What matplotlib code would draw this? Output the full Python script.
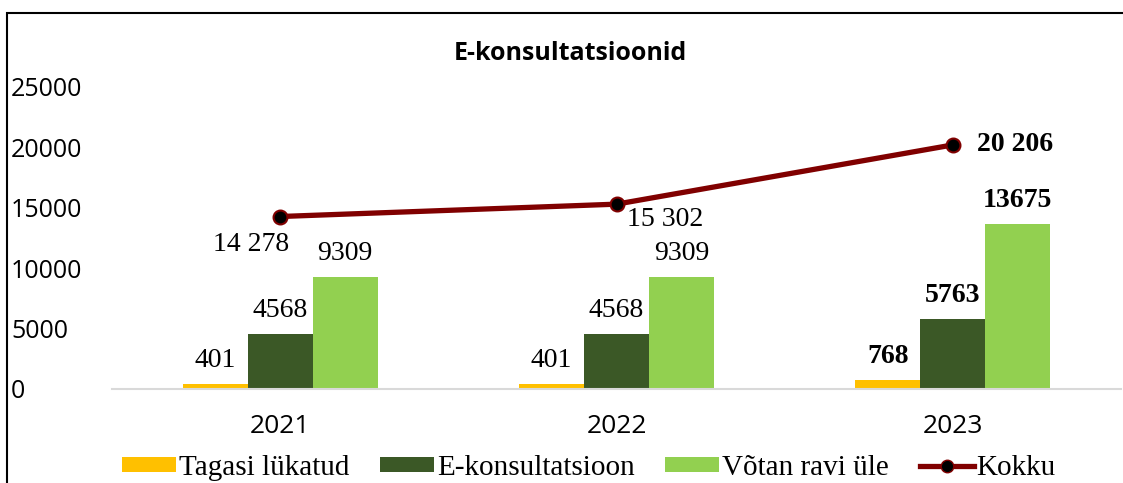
import matplotlib
matplotlib.use("Agg")
import matplotlib.pyplot as plt
import numpy as np
from matplotlib.lines import Line2D
from matplotlib.patches import Patch, Rectangle
from matplotlib.transforms import blended_transform_factory

years = ["2021", "2022", "2023"]
tagasi = [401, 401, 768]
ekons = [4568, 4568, 5763]
votan = [9309, 9309, 13675]
kokku = [14278, 15302, 20206]
kokku_labels = ["14 278", "15 302", "20 206"]
series_names = ["Tagasi lükatud", "E-konsultatsioon", "Võtan ravi üle", "Kokku"]
title = "E-konsultatsioonid"

c_yellow = "#FFC000"
c_dark = "#3B5826"
c_light = "#92D050"
c_line = "#800000"

serif = "Liberation Serif"
sans = "Open Sans"

fig = plt.figure(figsize=(11.23, 4.83), dpi=100)
ax = fig.add_axes([112 / 1123, (483 - 389) / 483, (1121 - 112) / 1123, (389 - 87) / 483])

# border of chart area (top and left visible)
fig.patches.append(Rectangle((7 / 1123, -0.1), 1.2, (483 - 13) / 483 + 0.1,
                             transform=fig.transFigure, fill=False,
                             edgecolor="black", linewidth=1.5))

x = np.arange(len(years))
w = 0.193
bars = [
    (tagasi, c_yellow, -w),
    (ekons, c_dark, 0),
    (votan, c_light, w),
]
for vals, col, off in bars:
    ax.bar(x + off, vals, width=w, color=col, edgecolor="none", zorder=2)
    for i, v in enumerate(vals):
        ax.annotate(str(v), (x[i] + off, v), xytext=(0, 11), textcoords="offset pixels",
                    ha="center", va="bottom", fontsize=20, family=serif,
                    fontweight="bold" if i == 2 else "normal", zorder=5)

ax.plot(x, kokku, color=c_line, linewidth=3.8, marker="o", markersize=10,
        markerfacecolor="black", markeredgecolor=c_line, markeredgewidth=1.5, zorder=4)

label_offsets = [(-29, -28), (49, -15), (62, 0)]
for i, (v, lab) in enumerate(zip(kokku, kokku_labels)):
    dx, dy = label_offsets[i]
    ax.annotate(lab, (x[i], v), xytext=(dx, dy), textcoords="offset pixels",
                ha="center", va="center", fontsize=20, family=serif,
                fontweight="bold" if i == 2 else "normal", zorder=5)

ax.set_xlim(-0.5, 2.5)
ax.set_ylim(0, 25000)
ax.set_yticks(np.arange(0, 25001, 5000))
ax.set_xticks(x)
ax.set_xticklabels(years)
for s in ["top", "right", "left"]:
    ax.spines[s].set_visible(False)
ax.spines["bottom"].set_color("#D9D9D9")
ax.spines["bottom"].set_linewidth(1.5)
ax.tick_params(axis="y", length=0, pad=0, labelsize=18)
ax.tick_params(axis="x", length=0, pad=18, labelsize=19)
for t in ax.get_yticklabels() + ax.get_xticklabels():
    t.set_family(sans)
for t in ax.get_yticklabels():
    t.set_ha("left")
    t.set_transform(blended_transform_factory(fig.transFigure, ax.transData))
    t.set_x(11 / 1123)

fig.text(570 / 1123, (483 - 53) / 483, title, ha="center", va="center",
         fontsize=18, fontweight="bold", family=sans)

handles = [
    Patch(facecolor=c_yellow, edgecolor="none"),
    Patch(facecolor=c_dark, edgecolor="none"),
    Patch(facecolor=c_light, edgecolor="none"),
    Line2D([0], [0], color=c_line, linewidth=3.8, marker="o", markersize=9,
           markerfacecolor="black", markeredgecolor=c_line),
]
fig.legend(handles, series_names, loc="center", bbox_to_anchor=(589 / 1123, (483 - 468) / 483),
           ncol=4, frameon=False, prop={"family": serif, "size": 21},
           handlelength=1.85, handleheight=0.45, handletextpad=0.1, columnspacing=1.05,
           borderaxespad=0, borderpad=0)

fig.savefig("out.png", dpi=100)
